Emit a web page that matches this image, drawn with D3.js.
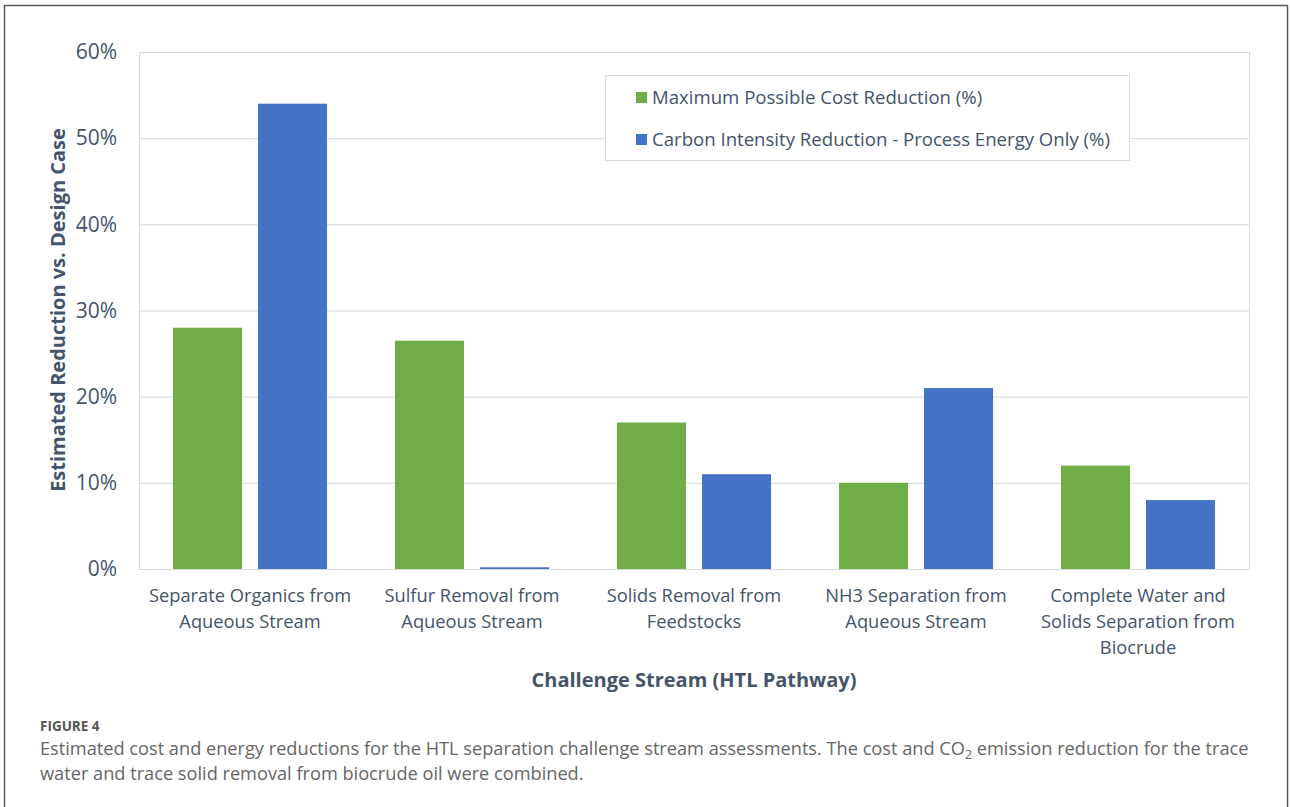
<!DOCTYPE html>
<html>
<head>
<meta charset="utf-8">
<script src="https://cdn.jsdelivr.net/npm/d3@7"></script>
<style>
  html, body { margin: 0; padding: 0; background: #fff; }
  svg { display: block; }
</style>
</head>
<body>
<svg id="chart" width="1290" height="807"></svg>
<script>
// Challenge streams (x categories), each label split into lines
const categories = [
  ["Separate Organics from", "Aqueous Stream"],
  ["Sulfur Removal from", "Aqueous Stream"],
  ["Solids Removal from", "Feedstocks"],
  ["NH3 Separation from", "Aqueous Stream"],
  ["Complete Water and", "Solids Separation from", "Biocrude"]
];
const seriesNames = [
  "Maximum Possible Cost Reduction (%)",
  "Carbon Intensity Reduction - Process Energy Only (%)"
];
const costReduction = [28, 26.5, 17, 10, 12];
const carbonReduction = [54, 0.2, 11, 21, 8];
const yTicks = [0, 10, 20, 30, 40, 50, 60];
const seriesColors = ["#70ad47", "#4472c4"];

const svg = d3.select("#chart");
const font = "'Open Sans', 'Noto Sans', sans-serif";
const textColor = "#44546a";

// outer figure frame
svg.append("rect")
  .attr("x", 4.5).attr("y", 5.5).attr("width", 1283).attr("height", 820)
  .attr("fill", "none").attr("stroke", "#595959").attr("stroke-width", 1.5);

const plot = { left: 139, right: 1249, top: 52, bottom: 569 };

const x0 = d3.scaleBand()
  .domain(d3.range(categories.length))
  .range([plot.left, plot.right])
  .paddingInner(0.306).paddingOuter(0.153);
const x1 = d3.scaleBand()
  .domain([0, 1])
  .range([0, x0.bandwidth()])
  .paddingInner(0.188);
const y = d3.scaleLinear().domain([0, 60]).range([plot.bottom, plot.top]);

// plot-area frame
svg.append("rect")
  .attr("x", plot.left + 0.5).attr("y", plot.top + 0.5)
  .attr("width", plot.right - plot.left).attr("height", plot.bottom - plot.top)
  .attr("fill", "none").attr("stroke", "#d9d9d9").attr("stroke-width", 1);

// gridlines + y tick labels
const yAxis = d3.axisLeft(y)
  .tickValues(yTicks)
  .tickSize(-(plot.right - plot.left))
  .tickPadding(22)
  .tickFormat(d => d + "%");
const gy = svg.append("g").attr("transform", `translate(${plot.left},0)`).call(yAxis);
gy.select(".domain").remove();
gy.selectAll(".tick line").attr("stroke", "#d9d9d9").attr("stroke-width", 1);
gy.selectAll(".tick text")
  .attr("fill", textColor).attr("font-family", font).attr("font-size", 21);

// bars
const data = categories.map((c, i) => ({ i, vals: [costReduction[i], carbonReduction[i]] }));
const groups = svg.append("g").selectAll("g").data(data).join("g")
  .attr("transform", d => `translate(${x0(d.i)},0)`);
groups.selectAll("rect").data(d => d.vals.map((v, s) => ({ v, s }))).join("rect")
  .attr("x", d => x1(d.s))
  .attr("width", x1.bandwidth())
  .attr("y", d => y(d.v))
  .attr("height", d => y(0) - y(d.v))
  .attr("fill", d => seriesColors[d.s]);

// x-axis category labels
const xl = svg.append("g");
categories.forEach((lines, i) => {
  const cx = x0(i) + x0.bandwidth() / 2;
  const t = xl.append("text")
    .attr("x", cx).attr("y", 602)
    .attr("text-anchor", "middle")
    .attr("fill", textColor).attr("font-family", font).attr("font-size", 18.3);
  lines.forEach((ln, k) => {
    t.append("tspan").attr("x", cx).attr("y", 602 + k * 26).text(ln);
  });
});

// axis titles
svg.append("text")
  .attr("transform", "translate(65,310) rotate(-90)")
  .attr("text-anchor", "middle")
  .attr("fill", textColor).attr("font-family", font).attr("font-size", 20).attr("font-weight", "bold")
  .text("Estimated Reduction vs. Design Case");
svg.append("text")
  .attr("x", 694).attr("y", 687)
  .attr("text-anchor", "middle")
  .attr("fill", textColor).attr("font-family", font).attr("font-size", 20).attr("font-weight", "bold")
  .text("Challenge Stream (HTL Pathway)");

// legend
const lg = svg.append("g");
lg.append("rect")
  .attr("x", 605.5).attr("y", 75.5).attr("width", 524).attr("height", 85)
  .attr("fill", "#fff").attr("stroke", "#d9d9d9").attr("stroke-width", 1);
seriesNames.forEach((name, s) => {
  const ly = 97 + s * 42;
  lg.append("rect").attr("x", 636).attr("y", ly - 5).attr("width", 11).attr("height", 11)
    .attr("fill", seriesColors[s]);
  lg.append("text").attr("x", 652).attr("y", ly + 7)
    .attr("fill", textColor).attr("font-family", font).attr("font-size", 18.6)
    .text(name);
});

// figure caption
svg.append("text")
  .attr("x", 40).attr("y", 731)
  .attr("fill", "#555").attr("font-family", font).attr("font-size", 13.5).attr("font-weight", "bold")
  .text("FIGURE 4");
const cap = svg.append("text")
  .attr("x", 40).attr("y", 755)
  .attr("fill", "#666").attr("font-family", font).attr("font-size", 18.2);
cap.append("tspan").text("Estimated cost and energy reductions for the HTL separation challenge stream assessments. The cost and CO");
cap.append("tspan").attr("font-size", 12.5).attr("dy", 4).text("2");
cap.append("tspan").attr("dy", -4).text(" emission reduction for the trace");
svg.append("text")
  .attr("x", 40).attr("y", 780)
  .attr("fill", "#666").attr("font-family", font).attr("font-size", 18.2)
  .text("water and trace solid removal from biocrude oil were combined.");
</script>
</body>
</html>
